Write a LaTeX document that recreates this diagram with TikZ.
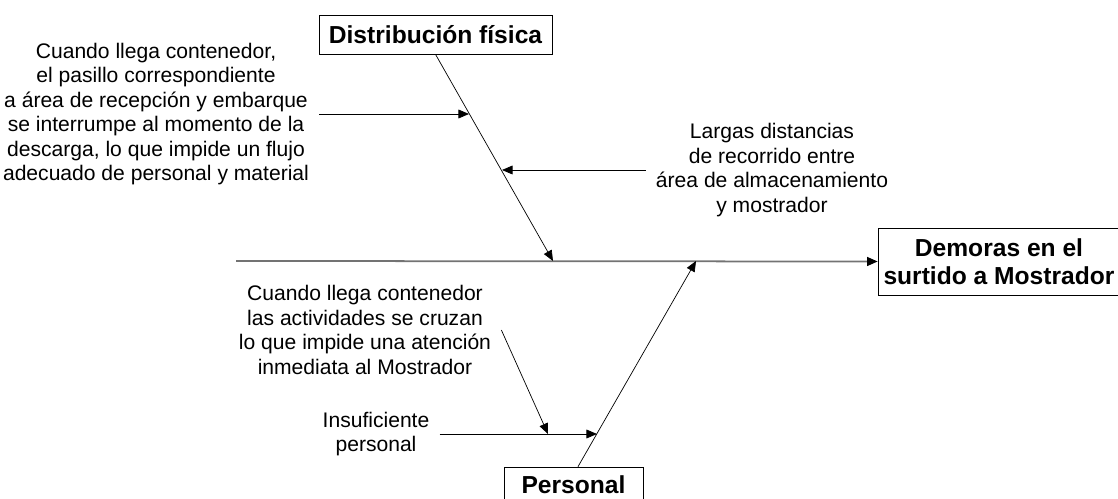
\documentclass[tikz,border=0pt]{standalone}
\usepackage{fontspec}
\setmainfont{Liberation Sans}
\usetikzlibrary{arrows.meta}

\begin{document}
\begin{tikzpicture}[x=0.02cm, y=-0.02cm,
    catbox/.style={draw, align=center, inner sep=0pt, font=\fontsize{14}{16}\selectfont\bfseries},
    cause/.style={align=center, inner xsep=0.2cm, inner ysep=0pt, font=\fontsize{12}{13.9}\selectfont},
    bone/.style={-{Triangle[length=6pt, width=5pt]}},
    spine/.style={-{Triangle[length=6pt, width=5pt, color=black]}, draw=black!55, line width=1pt}]
  \useasboundingbox (0,0) rectangle (1118,499);

  % head and spine
  \node[catbox, minimum width=4.84cm, minimum height=1.34cm] (effect) at (999,261.5) {Demoras en el\\surtido a Mostrador};
  \coordinate (tail) at (236,261);
  \draw[spine] (tail) -- (effect.west);

  % categories
  \node[catbox, minimum width=4.66cm, minimum height=0.78cm] (dist) at (435.5,34.5) {Distribución física};
  \node[catbox, minimum width=2.78cm, minimum height=0.72cm] (pers) at (573.5,485) {Personal};
  \coordinate (d1) at (553,261);
  \coordinate (p1) at (696,261);
  \draw[bone] (dist.south) -- (d1);
  \draw[bone] ([xshift=0.09cm]pers.north) -- (p1);

  % causes
  \node[cause] (c1) at (156,114) {Cuando llega contenedor,\\el pasillo correspondiente\\a área de recepción y embarque\\se interrumpe al momento de la\\descarga, lo que impide un flujo\\adecuado de personal y material};
  \node[cause] (c2) at (772,170) {Largas distancias\\de recorrido entre\\área de almacenamiento\\y mostrador};
  \node[cause] (c3) at (365,330) {Cuando llega contenedor\\las actividades se cruzan\\lo que impide una atención\\inmediata al Mostrador};
  \node[cause] (c4) at (376,434) {Insuficiente\\personal};

  \coordinate (d1a) at (469,114);
  \coordinate (d1b) at (502,170);
  \coordinate (p1a) at (597,434);
  \coordinate (p1b) at (548,434);
  \draw[bone] (c1.east) -- (d1a);
  \draw[bone] (c2.west) -- (d1b);
  \draw[bone] (c4.east) -- (p1a);
  \draw[bone] (c3.east) -- (p1b);
\end{tikzpicture}
\end{document}
